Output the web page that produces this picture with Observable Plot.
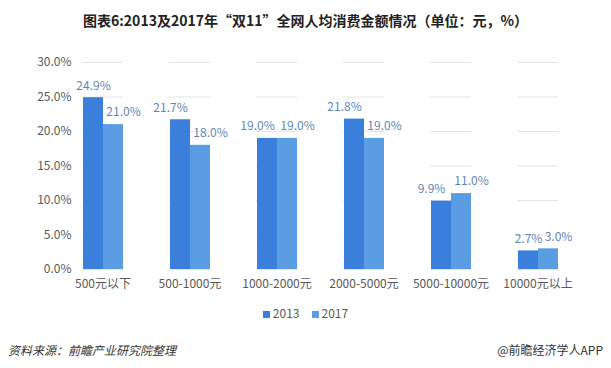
<!DOCTYPE html>
<html>
<head>
<meta charset="utf-8">
<script src="https://cdn.jsdelivr.net/npm/d3@7"></script>
<script src="https://cdn.jsdelivr.net/npm/@observablehq/plot@0.6"></script>
<style>
  html, body { margin: 0; padding: 0; background: #fff; }
  #wrap { position: relative; width: 611px; height: 368px; overflow: hidden; font-family: "Noto Sans CJK SC", "Noto Sans", sans-serif; }
  #title { position: absolute; left: 0; width: 611px; top: 10px; text-align: center; font-size: 14px; font-weight: bold; color: #222; }
  #legend { position: absolute; left: 0; width: 611px; top: 304px; text-align: center; font-size: 12px; color: #595959; }
  #legend span.sw { display: inline-block; width: 7px; height: 7px; margin-right: 3px; vertical-align: 0px; }
  #legend span.item { margin: 0 6px; }
  #src { position: absolute; left: 8px; top: 341px; font-size: 12px; font-style: italic; color: #333; }
  #brand { position: absolute; right: 8px; top: 341px; font-size: 12px; color: #333; }
  #chart { position: absolute; left: 0; top: 0; }
</style>
</head>
<body>
<div id="wrap">
  <div id="chart"></div>
  <div id="title">图表6:2013及2017年“双11”全网人均消费金额情况（单位：元，%）</div>
  <div id="legend"></div>
  <div id="src">资料来源：前瞻产业研究院整理</div>
  <div id="brand">@前瞻经济学人APP</div>
</div>
<script>
const categories = ["500元以下", "500-1000元", "1000-2000元", "2000-5000元", "5000-10000元", "10000元以上"];
const years = ["2013", "2017"];
const values2013 = [24.9, 21.7, 19.0, 21.8, 9.9, 2.7];
const values2017 = [21.0, 18.0, 19.0, 19.0, 11.0, 3.0];
const yTicks = [0, 5, 10, 15, 20, 25, 30];
const colors = ["#3b7fdc", "#5b9de3"];

const data = [];
categories.forEach((c, i) => {
  data.push({cat: c, idx: i, year: years[0], value: values2013[i]});
  data.push({cat: c, idx: i, year: years[1], value: values2017[i]});
});

const fmt = d => d.value.toFixed(1) + "%";
const labelStyle = {fx: "cat", x: "year", y: "value", text: fmt, dy: -12, fill: "#5f86b8", fontSize: 12};

const chart = Plot.plot({
  width: 611,
  height: 368,
  marginTop: 62,
  marginBottom: 99,
  marginLeft: 57,
  marginRight: 29,
  style: {fontFamily: '"Noto Sans CJK SC", "Noto Sans", sans-serif', fontSize: "12px", color: "#595959", background: "#fff"},
  fx: {domain: categories, paddingInner: 0.53, paddingOuter: 0.265, label: null, axis: null},
  x: {domain: years, padding: 0, axis: null},
  y: {domain: [0, 30], ticks: yTicks, label: null, axis: null},
  color: {domain: years, range: colors},
  marks: [
    Plot.gridY(yTicks, {stroke: "#e4e4e4", strokeOpacity: 1, strokeWidth: 1}),
    Plot.axisY(yTicks, {anchor: "left", tickSize: 0, tickPadding: 11, tickFormat: d => d.toFixed(1) + "%", fill: "#595959", fontSize: 12}),
    Plot.axisFx({anchor: "bottom", tickSize: 0, tickPadding: 10, label: null, fill: "#595959", fontSize: 12}),
    Plot.barY(data, {fx: "cat", x: "year", y: "value", fill: "year"}),
    Plot.text(data.filter(d => d.year === "2013" && (d.idx === 0 || d.idx === 5)), {...labelStyle}),
    Plot.text(data.filter(d => d.year === "2013" && d.idx !== 0 && d.idx !== 5), {...labelStyle, dx: -10}),
    Plot.text(data.filter(d => d.year === "2017"), {...labelStyle, dx: 10})
  ]
});
document.getElementById("chart").appendChild(chart);

const legend = document.getElementById("legend");
years.forEach((y, i) => {
  const item = document.createElement("span");
  item.className = "item";
  const sw = document.createElement("span");
  sw.className = "sw";
  sw.style.background = colors[i];
  item.appendChild(sw);
  item.appendChild(document.createTextNode(y));
  legend.appendChild(item);
});
</script>
</body>
</html>
